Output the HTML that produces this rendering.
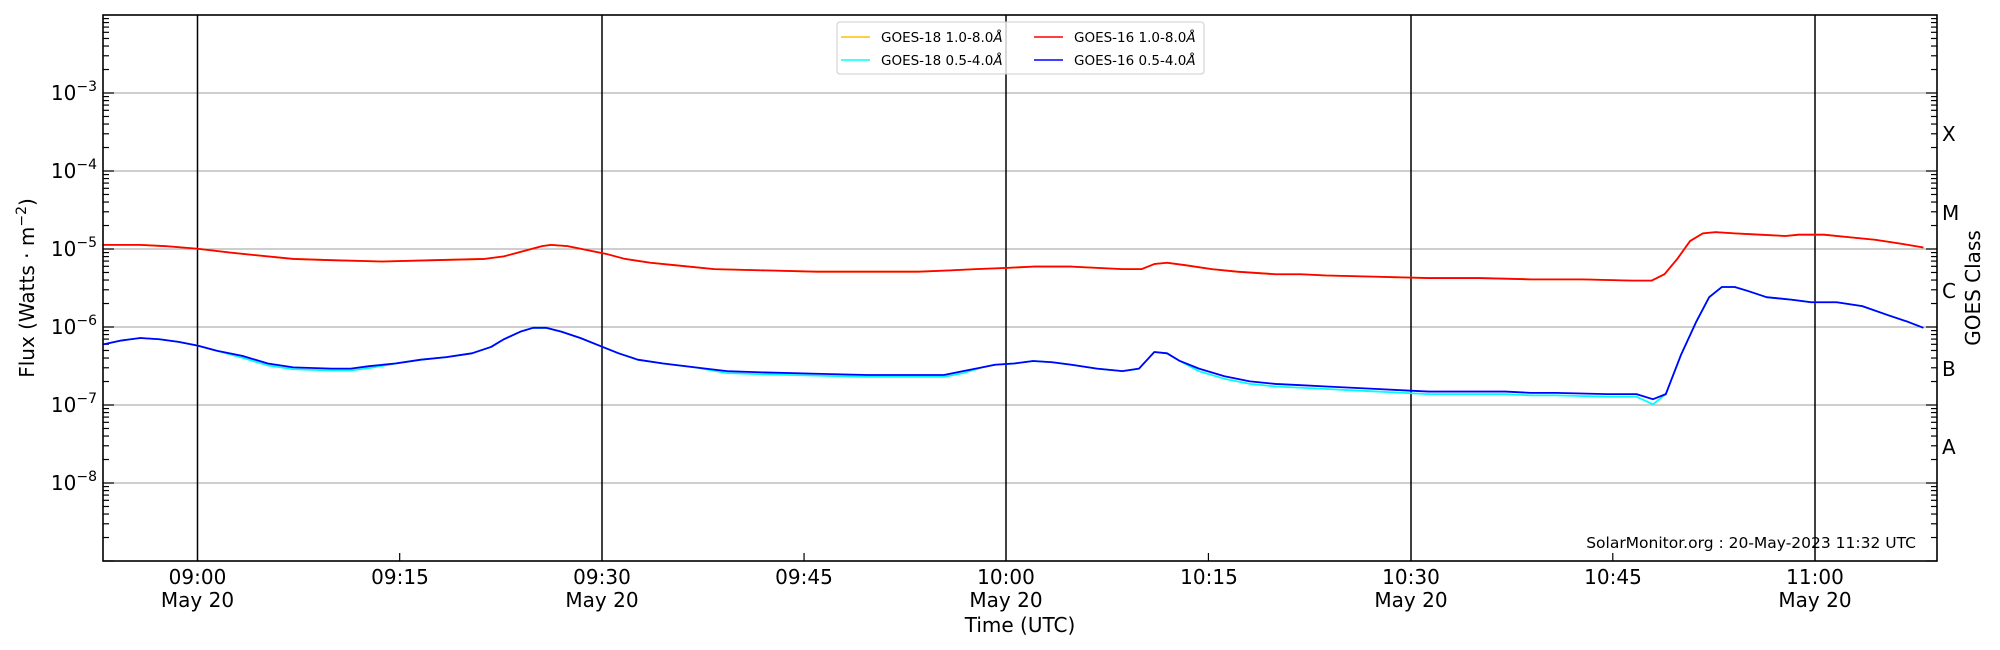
<!DOCTYPE html>
<html><head><meta charset="utf-8"><style>
html,body{margin:0;padding:0;background:#fff;}
svg{display:block;font-family:"DejaVu Sans","Liberation Sans",sans-serif;}
</style></head><body>
<svg id="s" width="2000" height="650" viewBox="0 0 2000 650" xmlns="http://www.w3.org/2000/svg">
<rect width="2000" height="650" fill="#fff"/>
<g stroke="#b0b0b0" stroke-width="1.3">
<line x1="103" x2="1937" y1="93" y2="93"/><line x1="103" x2="1937" y1="171" y2="171"/>
<line x1="103" x2="1937" y1="249" y2="249"/><line x1="103" x2="1937" y1="327" y2="327"/>
<line x1="103" x2="1937" y1="405" y2="405"/><line x1="103" x2="1937" y1="483" y2="483"/>
</g>
<g stroke="#000" stroke-width="1.5">
<line x1="197.5" x2="197.5" y1="15" y2="561"/><line x1="602" x2="602" y1="15" y2="561"/>
<line x1="1006" x2="1006" y1="15" y2="561"/><line x1="1411" x2="1411" y1="15" y2="561"/>
<line x1="1815" x2="1815" y1="15" y2="561"/>
</g>
<g id="ticks" stroke="#000" stroke-width="1.2"></g>
<g transform="scale(1.2755)" fill="none" stroke-width="1.4" stroke-linejoin="round">
<polyline id="gold" stroke="#ffc000" points=""/>
<polyline id="red" stroke="#ff0000" points="81,192 110,192 130,193 155,195 180,198 200,200 230,203 260,204 300,205 340,204 380,203 395,201 410,197 425,193 432,192 445,193 460,196 475,199 490,203 510,206 530,208 560,211 600,212 640,213 680,213 720,213 745,212 765,211 790,210 810,209 840,209 860,210 880,211 895,211 905,207 915,206 930,208 950,211 970,213 1000,215 1020,215 1040,216 1080,217 1120,218 1160,218 1200,219 1240,219 1280,220 1295,220 1305,215 1315,203 1325,189 1335,183 1345,182 1360,183 1380,184 1400,185 1410,184 1430,184 1450,186 1470,188 1490,191 1508,194"/>
<polyline id="cyan" stroke="#00ffff" points=""/>
<polyline id="blue" stroke="#0000ff" points="81,270 95,267 110,265 125,266 140,268 155,271 170,275 190,279 210,285 230,288 260,289 275,289 290,287 310,285 330,282 350,280 370,277 385,272 395,266 408,260 418,257 428,257 440,260 455,265 470,271 485,277 500,282 520,285 545,288 570,291 600,292 640,293 680,294 700,294 720,294 740,294 755,291 770,288 780,286 795,285 810,283 825,284 840,286 860,289 880,291 893,289 905,276 915,277 925,283 940,289 960,295 980,299 1000,301 1020,302 1040,303 1060,304 1080,305 1100,306 1120,307 1160,307 1180,307 1200,308 1220,308 1260,309 1283,309 1296,313 1306,309 1318,278 1330,252 1340,233 1350,225 1360,225 1370,228 1385,233 1405,235 1420,237 1440,237 1460,240 1480,247 1495,252 1508,257"/>
</g>
<rect x="103" y="15" width="1834" height="546" fill="none" stroke="#000" stroke-width="1.6"/>
<rect x="837" y="22" width="367" height="52" rx="3" fill="#fff" fill-opacity="0.8" stroke="#ccc"/>
<g stroke-width="1.5">
<line x1="841" x2="870" y1="37" y2="37" stroke="#ffc000"/>
<line x1="841" x2="870" y1="60" y2="60" stroke="#00ffff"/>
<line x1="1034" x2="1063" y1="37" y2="37" stroke="#ff0000"/>
<line x1="1034" x2="1063" y1="60" y2="60" stroke="#0000ff"/>
</g>
<g font-size="13.5" fill="#000">
<text x="881" y="42">GOES-18 1.0-8.0<tspan font-style="italic">Å</tspan></text>
<text x="881" y="65">GOES-18 0.5-4.0<tspan font-style="italic">Å</tspan></text>
<text x="1074" y="42">GOES-16 1.0-8.0<tspan font-style="italic">Å</tspan></text>
<text x="1074" y="65">GOES-16 0.5-4.0<tspan font-style="italic">Å</tspan></text>
</g>
<g font-size="20" text-anchor="end" fill="#000">
<text x="97" y="100">10<tspan dy="-9" font-size="14">−3</tspan></text>
<text x="97" y="178">10<tspan dy="-9" font-size="14">−4</tspan></text>
<text x="97" y="256">10<tspan dy="-9" font-size="14">−5</tspan></text>
<text x="97" y="334">10<tspan dy="-9" font-size="14">−6</tspan></text>
<text x="97" y="412">10<tspan dy="-9" font-size="14">−7</tspan></text>
<text x="97" y="490">10<tspan dy="-9" font-size="14">−8</tspan></text>
</g>
<g font-size="20" fill="#000">
<text x="1942" y="141">X</text><text x="1942" y="220">M</text>
<text x="1942" y="298">C</text><text x="1942" y="376">B</text><text x="1942" y="454">A</text>
</g>
<g font-size="20" text-anchor="middle" fill="#000">
<text x="197.5" y="584">09:00</text><text x="197.5" y="607">May 20</text>
<text x="400" y="584">09:15</text>
<text x="602" y="584">09:30</text><text x="602" y="607">May 20</text>
<text x="804" y="584">09:45</text>
<text x="1006" y="584">10:00</text><text x="1006" y="607">May 20</text>
<text x="1209" y="584">10:15</text>
<text x="1411" y="584">10:30</text><text x="1411" y="607">May 20</text>
<text x="1613" y="584">10:45</text>
<text x="1815" y="584">11:00</text><text x="1815" y="607">May 20</text>
<text x="1020" y="632">Time (UTC)</text>
<text transform="translate(34,288) rotate(-90)">Flux (Watts · m<tspan dy="-8" font-size="14">−2</tspan><tspan dy="8">)</tspan></text>
<text transform="translate(1980,288) rotate(-90)">GOES Class</text>
</g>
<text x="1916" y="548" font-size="15.5" text-anchor="end">SolarMonitor.org : 20-May-2023 11:32 UTC</text>
<script>
(function(){
var g=document.getElementById('ticks'),ns='http://www.w3.org/2000/svg';
function L(x1,y1,x2,y2){var l=document.createElementNS(ns,'line');l.setAttribute('x1',x1);l.setAttribute('y1',y1);l.setAttribute('x2',x2);l.setAttribute('y2',y2);g.appendChild(l);}
for(var d=-9;d<=-3;d++){for(var k=1;k<10;k++){var y=249-78*(d+Math.log10(k)+5);if(y<15||y>561)continue;var len=k==1?11:6;L(103,y,103+len,y);L(1937,y,1937-len,y);}}
for(var m=0;m<=135;m+=15){var x=197.5+13.479*m;if(x>1937)break;if(m%30)L(x,561,x,553);}
var b=document.getElementById('blue').getAttribute('points').trim().split(/\s+/);
var c=b.map(function(p){var a=p.split(',');var x=+a[0],y=+a[1];var o=(x>180&&x<300)?1.5:(x>560&&x<760)?1.5:(x>930&&x<1300)?2:0;if(x>1288&&x<1300)o=4;return x+','+(y+o);});
document.getElementById('cyan').setAttribute('points',c.join(' '));
document.getElementById('gold').setAttribute('points',document.getElementById('red').getAttribute('points'));
})();
</script>
</svg>
</body></html>
